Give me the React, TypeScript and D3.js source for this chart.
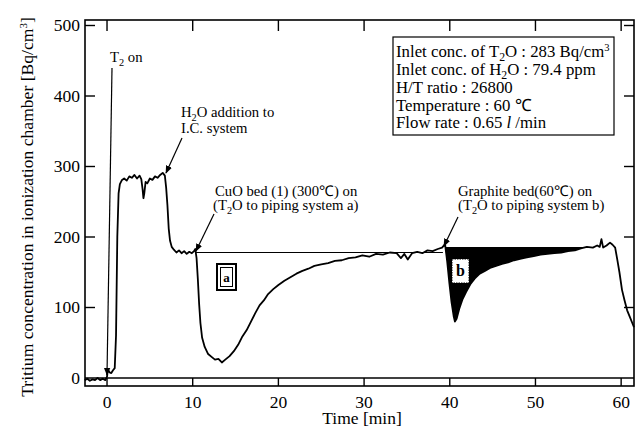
import React from 'react';
import * as d3 from 'd3';

const times = [
  -2.6, -2.3, -2.0, -1.7, -1.4, -1.1, -0.8, -0.5, -0.2, 0.0, 0.1, 0.3, 0.5, 0.7, 0.9, 1.05, 1.2, 1.35, 1.5, 1.75,
  2.0, 2.3, 2.6, 2.9, 3.2, 3.5, 3.8, 4.0, 4.15, 4.25, 4.35, 4.5, 4.7, 5.0, 5.3, 5.6, 5.9, 6.2, 6.5, 6.75,
  6.9, 7.05, 7.2, 7.35, 7.55, 7.8, 8.1, 8.4, 8.7, 9.0, 9.3, 9.6, 9.9, 10.15, 10.3, 10.45, 10.6, 10.75, 10.9, 11.1,
  11.4, 11.8, 12.2, 12.6, 13.0, 13.4, 13.8, 14.3, 14.8, 15.3, 15.8, 16.3, 16.8, 17.3, 17.8, 18.3, 18.8, 19.4, 20.0, 20.7,
  21.4, 22.1, 22.8, 23.5, 24.2, 25.0, 25.8, 26.6, 27.4, 28.2, 29.0, 29.8, 30.6, 31.4, 32.2, 33.0, 33.8, 34.3, 34.7, 35.1,
  35.6, 36.2, 36.8, 37.4, 38.0, 38.6, 39.1, 39.45, 39.7, 39.95, 40.2, 40.45, 40.6, 40.8, 41.1, 41.5, 41.9, 42.4, 42.9, 43.5,
  44.1, 44.7, 45.4, 46.1, 46.8, 47.5, 48.2, 49.0, 49.8, 50.6, 51.4, 52.2, 53.0, 53.8, 54.6, 55.3, 56.0, 56.7, 57.2, 57.5,
  57.7, 57.9, 58.3, 58.7, 59.0, 59.3, 59.55, 59.8, 60.1, 60.4, 60.7, 61.0, 61.3, 61.5,
];

const values = [
  -3, -1, -4, -2, -3, 0, -3, -1, -3, 2, 12, 8, 7, 11, 14, 60, 200, 262, 275, 281,
  283, 280, 286, 284, 288, 283, 287, 282, 268, 255, 262, 278, 276, 283, 281, 286, 284, 288, 291, 287,
  270, 245, 212, 195, 186, 182, 178, 181, 177, 180, 176, 179, 177, 180, 183, 170, 140, 105, 78, 57,
  44, 34, 30, 26, 27, 22, 26, 31, 38, 47, 59, 68, 80, 92, 103, 110, 119, 126, 132, 138,
  143, 148, 152, 155, 159, 161, 163, 166, 167, 170, 171, 174, 172, 176, 175, 178, 177, 170, 176, 168,
  177, 179, 177, 181, 180, 183, 185, 190, 165, 135, 108, 88, 80, 84, 98, 112, 122, 133, 141, 148,
  152, 156, 159, 162, 164, 167, 169, 171, 173, 175, 176, 177, 178, 180, 181, 184, 186, 185, 188, 186,
  197, 185, 188, 192, 189, 185, 168, 150, 125, 110, 96, 87, 78, 72,
];

const xTicks = [0, 10, 20, 30, 40, 50, 60];
const yTicks = [0, 100, 200, 300, 400, 500];

const baselineA = 178;
const aStart = 10.3;
const aEnd = 39.2;
const baselineB = 185;
const bStart = 39.45;
const bEnd = 56;

const FONT = "'Liberation Serif', 'Times New Roman', serif";
const AF = 14.7;

function Sub({ base, sub, rest, size }: { base: string; sub: string; rest?: string; size: number }) {
  const d = Math.round(size * 0.25);
  return (
    <>
      <tspan>{base}</tspan>
      <tspan dy={d} fontSize={size * 0.7}>{sub}</tspan>
      <tspan dy={-d}>{rest ?? ''}</tspan>
    </>
  );
}

export default function App() {
  const L = 85, R = 634, T = 20, B = 386;
  const x = d3.scaleLinear().domain([-2.57, 61.5]).range([L, R]);
  const y = d3.scaleLinear().domain([-11.35, 507.8]).range([B, T]);
  const data = times.map((t, i) => ({ t, v: values[i] }));
  const line = d3.line<{ t: number; v: number }>().x(d => x(d.t)).y(d => y(d.v));
  const bData = data.filter(d => d.t >= bStart && d.t <= bEnd);
  const area = d3
    .area<{ t: number; v: number }>()
    .x(d => x(d.t))
    .y0(y(baselineB))
    .y1(d => y(Math.min(d.v, baselineB)));

  const y0 = y(0);

  return (
    <svg width={639} height={432} style={{ position: 'absolute', left: 0, top: 0, background: '#fff' }} fontFamily={FONT}>
      <defs>
        <marker id="ah" viewBox="0 0 10 10" refX="9" refY="5" markerWidth="8" markerHeight="8" orient="auto" markerUnits="userSpaceOnUse">
          <path d="M0,1 L10,5 L0,9 Z" fill="#000" />
        </marker>
      </defs>
      <rect width={639} height={432} fill="#fff" />

      {/* fill b */}
      <path d={area(bData) ?? ''} fill="#000" />
      {/* baselines */}
      <line x1={x(aStart)} x2={x(aEnd)} y1={y(baselineA)} y2={y(baselineA)} stroke="#000" strokeWidth={1.1} />
      <line x1={x(bStart)} x2={x(bEnd)} y1={y(baselineB)} y2={y(baselineB)} stroke="#000" strokeWidth={1.1} />

      {/* frame */}
      <rect x={L} y={T} width={R - L} height={B - T} fill="none" stroke="#000" strokeWidth={1.6} />
      <line x1={L} x2={R} y1={y0} y2={y0} stroke="#000" strokeWidth={1.3} />

      {/* ticks */}
      {xTicks.map(t => (
        <g key={'xt' + t}>
          <line x1={x(t)} x2={x(t)} y1={B} y2={y0} stroke="#000" strokeWidth={1.4} />
          <line x1={x(t)} x2={x(t)} y1={T} y2={T + 11} stroke="#000" strokeWidth={1.4} />
          <text x={x(t)} y={408} fontSize={17.5} textAnchor="middle">{t}</text>
        </g>
      ))}
      {yTicks.map(v => (
        <g key={'yt' + v}>
          {v > 0 && <line x1={L} x2={L + 10} y1={y(v)} y2={y(v)} stroke="#000" strokeWidth={1.4} />}
          {v > 0 && <line x1={R} x2={R - 10} y1={y(v)} y2={y(v)} stroke="#000" strokeWidth={1.4} />}
          <text x={80} y={y(v) + 6} fontSize={17.5} textAnchor="end">{v}</text>
        </g>
      ))}

      {/* data curve */}
      <path d={line(data) ?? ''} fill="none" stroke="#000" strokeWidth={1.8} strokeLinejoin="round" />

      {/* axis titles */}
      <text x={362} y={424} fontSize={17.5} textAnchor="middle">Time [min]</text>
      <text transform="translate(33,207) rotate(-90)" fontSize={17.6} textAnchor="middle">
        Tritium concentration in ionization chamber [Bq/cm<tspan dy={-6} fontSize={11}>3</tspan><tspan dy={6}>]</tspan>
      </text>

      {/* T2 on */}
      <text x={110} y={62} fontSize={AF}>
        <Sub base="T" sub="2" rest=" on" size={AF} />
      </text>
      <line x1={112} y1={68} x2={107} y2={375} stroke="#000" strokeWidth={1.2} markerEnd="url(#ah)" />

      {/* H2O addition */}
      <text x={181} y={117} fontSize={AF}>
        <Sub base="H" sub="2" rest="O addition to" size={AF} />
      </text>
      <text x={181} y={133} fontSize={AF}>I.C. system</text>
      <line x1={182} y1={138} x2={166} y2={173} stroke="#000" strokeWidth={1.2} markerEnd="url(#ah)" />

      {/* CuO bed */}
      <text x={215} y={196} fontSize={AF}>CuO bed (1) (300℃) on</text>
      <text x={213} y={210} fontSize={AF}>
        <Sub base="(T" sub="2" rest="O to piping system a)" size={AF} />
      </text>
      <line x1={214} y1={214} x2={196} y2={251} stroke="#000" strokeWidth={1.2} markerEnd="url(#ah)" />

      {/* Graphite bed */}
      <text x={458} y={196} fontSize={AF}>Graphite bed(60℃) on</text>
      <text x={458} y={210} fontSize={AF}>
        <Sub base="(T" sub="2" rest="O to piping system b)" size={AF} />
      </text>
      <line x1={458} y1={217} x2={444} y2={246} stroke="#000" strokeWidth={1.2} markerEnd="url(#ah)" />

      {/* label a */}
      <rect x={217} y={264} width={19} height={26} fill="#fff" stroke="#000" strokeWidth={2} />
      <rect x={220.5} y={267.5} width={12} height={19} fill="none" stroke="#000" strokeWidth={1} />
      <text x={226.5} y={282} fontSize={13} fontWeight="bold" textAnchor="middle">a</text>

      {/* label b */}
      <rect x={452} y={259} width={17} height={24} fill="#fff" stroke="#000" strokeWidth={1} strokeDasharray="1.5 1" />
      <text x={460.5} y={276} fontSize={16} fontWeight="bold" textAnchor="middle">b</text>

      {/* info box */}
      <rect x={393} y={37} width={221} height={98} fill="#fff" stroke="#000" strokeWidth={1.2} />
      <g fontSize={16.8}>
        <text x={396} y={57}>
          <Sub base="Inlet conc. of T" sub="2" rest="O : 283 Bq/cm" size={16.8} />
          <tspan dy={-6} fontSize={10.5}>3</tspan>
        </text>
        <text x={396} y={75}>
          <Sub base="Inlet conc. of H" sub="2" rest="O : 79.4 ppm" size={16.8} />
        </text>
        <text x={396} y={93}>H/T ratio : 26800</text>
        <text x={396} y={110.5}>Temperature : 60 ℃</text>
        <text x={396} y={128}>
          Flow rate : 0.65 <tspan fontStyle="italic">l</tspan> /min
        </text>
      </g>
    </svg>
  );
}
